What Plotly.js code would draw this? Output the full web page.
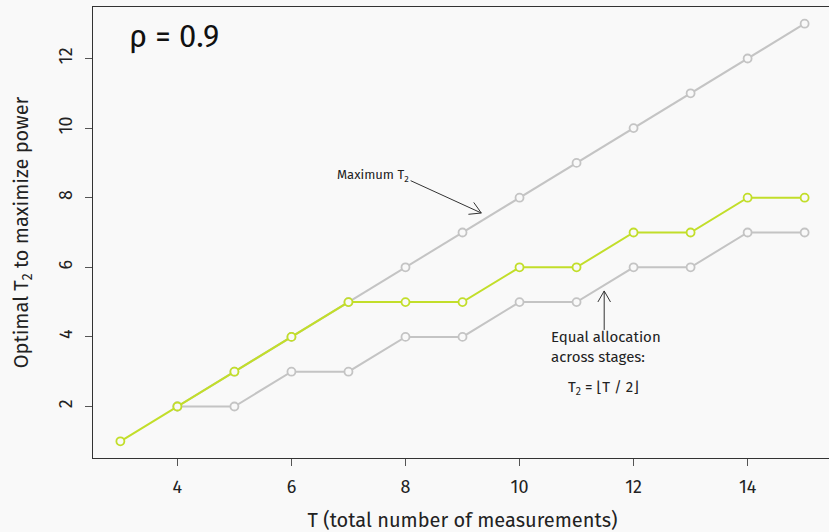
<!DOCTYPE html>
<html><head><meta charset="utf-8">
<script src="https://cdn.plot.ly/plotly-3.0.1.min.js"></script>
<style>html,body{margin:0;padding:0;background:#f9f9f9;overflow:hidden;}</style>
</head><body>
<div id="chart"></div>
<script>
const totalT = [3,4,5,6,7,8,9,10,11,12,13,14,15];
const optimalT2 = [1,2,3,4,5,5,5,6,6,7,7,8,8];
const maxT = [4,5,6,7,8,9,10,11,12,13,14,15];
const maxT2 = [2,3,4,5,6,7,8,9,10,11,12,13];
const equalT = [4,5,6,7,8,9,10,11,12,13,14,15];
const equalT2 = [2,2,3,3,4,4,5,5,6,6,7,7];
const xTicks = [4,6,8,10,12,14];
const yTicks = [2,4,6,8,10,12];

const bg = '#f9f9f9';
const gray = '#c4c4c4';
const green = '#c2de2a';
const font = '"Fira Sans","Open Sans",Roboto,sans-serif';

function series(x, y, color) {
  return {x: x, y: y, type: 'scatter', mode: 'lines+markers', hoverinfo: 'skip',
    line: {color: color, width: 2},
    marker: {symbol: 'circle', size: 8, color: bg, line: {color: color, width: 1.8}}};
}

const traces = [series(maxT, maxT2, gray), series(equalT, equalT2, gray), series(totalT, optimalT2, green)];

function arrow(hx, hy, tx, ty, heads) {
  const s = [{type: 'line', xref: 'x', yref: 'y', x0: tx, y0: ty, x1: hx, y1: hy, line: {color: '#333', width: 1}}];
  heads.forEach(h => s.push({type: 'line', xref: 'x', yref: 'y', xsizemode: 'pixel', ysizemode: 'pixel',
    xanchor: hx, yanchor: hy, x0: 0, y0: 0, x1: h[0], y1: h[1], line: {color: '#333', width: 1}}));
  return s;
}
const shapes = [].concat(
  arrow(9.33, 7.56, 8.09, 8.49, [[-12.9, -1.3], [-7.6, 10.6]]),
  arrow(11.485, 5.32, 11.485, 4.2, [[-6.3, -11], [6.3, -11]])
);

const layout = {
  width: 840, height: 532,
  margin: {l: 93, r: 8, t: 7, b: 74},
  paper_bgcolor: bg, plot_bgcolor: bg,
  showlegend: false,
  font: {family: font, color: '#222'},
  xaxis: {range: [2.52, 15.48], tickvals: xTicks, ticks: 'outside', ticklen: 7, tickcolor: '#555',
    tickfont: {size: 18, family: font}, showgrid: false, zeroline: false, showline: true, linecolor: '#333',
    linewidth: 1, mirror: true, ticklabelstandoff: 5,
    title: {text: 'T (total number of measurements)', font: {size: 20, family: font}, standoff: 16}},
  yaxis: {range: [0.52, 13.48], tickvals: yTicks, ticks: 'outside', ticklen: 7, tickcolor: '#555',
    tickangle: -90, tickfont: {size: 18, family: font}, showgrid: false, zeroline: false, showline: true,
    linecolor: '#333', linewidth: 1, mirror: true, ticklabelstandoff: 6,
    title: {text: 'Optimal T<sub>2</sub> to maximize power', font: {size: 20, family: font}, standoff: 20}},
  shapes: shapes,
  annotations: [
    {x: 3.12, y: 12.62, xref: 'x', yref: 'y', text: 'ρ = 0.9', showarrow: false, xanchor: 'left',
      font: {size: 31, family: font, color: '#111'}},
    {x: 8.09, y: 8.65, xref: 'x', yref: 'y', text: 'Maximum T<sub>2</sub>', showarrow: false, xanchor: 'right',
      font: {size: 13, family: font, color: '#222'}},
    {x: 10.52, y: 3.71, xref: 'x', yref: 'y', text: 'Equal allocation<br>across stages:', showarrow: false,
      xanchor: 'left', align: 'left', font: {size: 15, family: font, color: '#222'}},
    {x: 11.47, y: 2.53, xref: 'x', yref: 'y',
      text: 'T<sub>2</sub> = <span style="font-family:\'DejaVu Sans\'">⌊</span>T / 2<span style="font-family:\'DejaVu Sans\'">⌋</span>',
      showarrow: false, xanchor: 'center', font: {size: 15, family: font, color: '#222'}}
  ]
};

Plotly.newPlot('chart', traces, layout, {displayModeBar: false, staticPlot: true});
</script>
</body></html>
